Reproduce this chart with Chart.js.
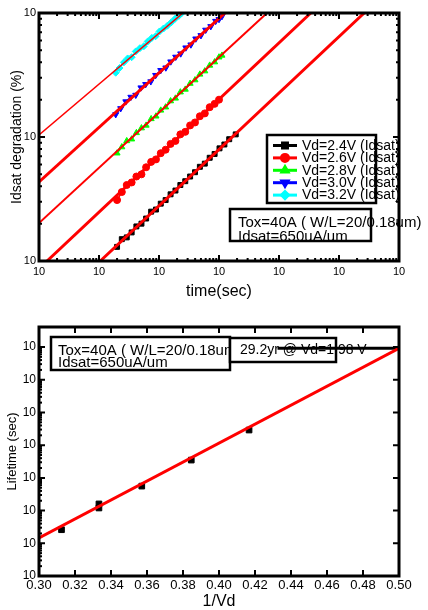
<!DOCTYPE html>
<html>
<head>
<meta charset="utf-8">
<script src="https://cdn.jsdelivr.net/npm/chart.js@4.4.0/dist/chart.umd.min.js"></script>
<style>
  html, body { margin: 0; padding: 0; background: #fff; }
  #wrap { position: relative; width: 428px; height: 610px; }
  .pane { position: absolute; left: 0; width: 428px; }
</style>
</head>
<body>
<div id="wrap">
  <div class="pane" style="top:0;height:300px"><canvas id="degChart"></canvas></div>
  <div class="pane" style="top:300px;height:310px"><canvas id="lifeChart"></canvas></div>
</div>
<script>
// ---- top chart data: Idsat degradation (%) vs stress time (sec) ----
const seriesLabels = ['Vd=2.4V (Idsat)', 'Vd=2.6V (Idsat)', 'Vd=2.8V (Idsat)', 'Vd=3.0V (Idsat)', 'Vd=3.2V (Idsat)'];

const time24 = [20, 24, 29, 35, 42, 51, 61, 74, 89, 107, 129, 156, 188, 227, 274, 330, 398, 480, 580, 700, 845, 1020, 1230, 1480, 1900];
const deg24 = [0.13, 0.15, 0.155, 0.17, 0.19, 0.20, 0.22, 0.25, 0.26, 0.29, 0.31, 0.345, 0.37, 0.41, 0.44, 0.48, 0.52, 0.575, 0.61, 0.68, 0.73, 0.81, 0.87, 0.96, 1.05];
const time26 = [20, 24, 29, 35, 42, 51, 61, 74, 89, 107, 129, 156, 188, 227, 274, 330, 398, 480, 580, 700, 845, 1000];
const deg26 = [0.31, 0.36, 0.41, 0.43, 0.48, 0.50, 0.57, 0.63, 0.66, 0.74, 0.79, 0.88, 0.93, 1.05, 1.10, 1.24, 1.31, 1.47, 1.55, 1.74, 1.85, 2.0];
const time28 = [20, 24, 29, 35, 42, 51, 61, 74, 89, 107, 129, 156, 188, 227, 274, 330, 398, 480, 580, 700, 845, 1000, 1120];
const deg28 = [0.74, 0.83, 0.93, 0.96, 1.08, 1.18, 1.24, 1.40, 1.47, 1.64, 1.74, 1.95, 2.05, 2.30, 2.42, 2.70, 2.88, 3.20, 3.40, 3.78, 4.02, 4.40, 4.55];
const time30 = [19, 23, 28, 34, 41, 50, 60, 73, 88, 107, 130, 157, 190, 230, 280, 340, 410, 500, 600, 730, 880, 1000, 1120];
const deg30 = [1.52, 1.70, 1.93, 2.10, 2.18, 2.50, 2.66, 2.80, 3.15, 3.45, 3.62, 4.05, 4.42, 4.70, 5.25, 5.55, 6.20, 6.60, 7.30, 7.80, 8.60, 8.90, 9.40];
const time32 = [19, 22, 26, 30, 35, 41, 48, 56, 65, 76, 88, 102, 119, 138, 160, 186, 215, 235];
const deg32 = [3.3, 3.6, 4.0, 4.3, 4.4, 4.9, 5.2, 5.4, 5.9, 6.3, 6.5, 7.1, 7.5, 7.9, 8.4, 9.0, 9.5, 9.9];

// fitted power-law lines, where they enter and leave the frame
const fitTime24 = [10.5, 263000], fitDeg24 = [0.1, 10];
const fitTime26 = [1.36, 33900], fitDeg26 = [0.1, 10];
const fitTime28 = [1, 6310], fitDeg28 = [0.202, 10];
const fitTime30 = [1, 1259], fitDeg30 = [0.434, 10];
const fitTime32 = [1, 251], fitDeg32 = [1.04, 10];

const timeTicks = [1, 10, 100, 1e3, 1e4, 1e5, 1e6];
const degTicks = [0.1, 1, 10];

// ---- bottom chart data: lifetime (sec) vs 1/Vd ----
const invVd = [0.3125, 0.3333, 0.3333, 0.3571, 0.3846, 0.4167];
const lifetime = [2.6e3, 1.2e4, 1.6e4, 5.6e4, 3.5e5, 2.9e6];
const fitInvVd = [0.30, 0.50], fitLifetime = [1.45e3, 9.2e8];
const levelInvVd = [0.4325, 0.50], levelLifetime = [9.21e8, 9.21e8];

const invVdTicks = [0.30, 0.32, 0.34, 0.36, 0.38, 0.40, 0.42, 0.44, 0.46, 0.48, 0.50];
const lifeTicks = [1e2, 1e3, 1e4, 1e5, 1e6, 1e7, 1e8, 1e9];

// styles
const seriesColors = ['#000000', '#ff0000', '#00ff00', '#0000ff', '#00ffff'];
const seriesMarkers = ['rect', 'circle', 'triangle', 'triangle', 'rectRot'];
const markerRotation = [0, 0, 0, 180, 0];
const fitWidths = [3, 3, 2, 3, 1.5];

const FONT = '"Liberation Sans", Arial, sans-serif';
Chart.defaults.font.family = FONT;
Chart.defaults.color = '#000';

const pts = (xs, ys) => xs.map((x, i) => ({ x, y: ys[i] }));

function logMinors(majors) {
  const out = [];
  for (let i = 0; i < majors.length - 1; i++)
    for (let k = 2; k <= 9; k++) out.push(majors[i] * k);
  return out;
}

// thick frame + inward tick marks
const framePlugin = {
  id: 'frame',
  afterDraw(chart, args, o) {
    const { ctx, chartArea: a, scales } = chart;
    ctx.save();
    ctx.strokeStyle = '#000';
    ctx.lineWidth = 2;
    const sx = scales.x, sy = scales.y;
    const xMark = (v, len) => {
      const p = sx.getPixelForValue(v);
      ctx.beginPath();
      ctx.moveTo(p, a.bottom); ctx.lineTo(p, a.bottom - len);
      ctx.moveTo(p, a.top); ctx.lineTo(p, a.top + len);
      ctx.stroke();
    };
    const yMark = (v, len, right) => {
      const p = sy.getPixelForValue(v);
      ctx.beginPath();
      ctx.moveTo(a.left, p); ctx.lineTo(a.left + len, p);
      if (right) { ctx.moveTo(a.right, p); ctx.lineTo(a.right - len, p); }
      ctx.stroke();
    };
    o.xMajor.forEach(v => xMark(v, 6));
    (o.xMinor || []).forEach(v => xMark(v, 3));
    o.yMajor.forEach(v => yMark(v, 6, true));
    (o.yMinor || []).forEach(v => yMark(v, 3, o.yMinorRight));
    ctx.lineWidth = 3;
    ctx.strokeRect(a.left, a.top, a.right - a.left, a.bottom - a.top);
    ctx.restore();
  }
};

function drawMarker(ctx, style, rot, r, x, y, color) {
  ctx.fillStyle = color; ctx.strokeStyle = color;
  if (Chart.helpers && Chart.helpers.drawPoint) {
    Chart.helpers.drawPoint(ctx, { pointStyle: style, rotation: rot, radius: r, borderWidth: 1 }, x, y);
  } else {
    ctx.fillRect(x - r, y - r, 2 * r, 2 * r);
  }
}

function textBox(ctx, x0, y0, x1, y1, lines, tx, ty, gap, size) {
  ctx.fillStyle = '#fff';
  ctx.fillRect(x0, y0, x1 - x0, y1 - y0);
  ctx.fillStyle = '#000';
  ctx.font = size + 'px ' + FONT;
  ctx.textBaseline = 'middle';
  ctx.textAlign = 'left';
  lines.forEach((t, i) => ctx.fillText(t, tx, ty + i * gap));
  ctx.lineWidth = 2.5;
  ctx.strokeStyle = '#000';
  ctx.strokeRect(x0, y0, x1 - x0, y1 - y0);
}

const degNotes = {
  id: 'degNotes',
  afterDatasetsDraw(chart) {
    const ctx = chart.ctx;
    ctx.save();
    // legend
    ctx.fillStyle = '#fff';
    ctx.fillRect(267, 135, 109, 68);
    ctx.lineWidth = 2.5;
    ctx.strokeStyle = '#000';
    ctx.strokeRect(267, 135, 109, 68);
    seriesLabels.forEach((lab, i) => {
      const y = 145.5 + i * 12.4;
      ctx.strokeStyle = seriesColors[i];
      ctx.lineWidth = 3;
      ctx.beginPath(); ctx.moveTo(273, y); ctx.lineTo(297, y); ctx.stroke();
      drawMarker(ctx, seriesMarkers[i], markerRotation[i], 3.5, 285, y, seriesColors[i]);
      ctx.fillStyle = '#000';
      ctx.font = '14px ' + FONT;
      ctx.textBaseline = 'middle';
      ctx.fillText(lab, 302, y + 0.5);
    });
    textBox(ctx, 230, 209, 371, 241, ['Tox=40A ( W/L=20/0.18um)', 'Idsat=650uA/um'], 238, 223, 13.5, 15);
    ctx.restore();
  }
};

const lifeNotes = {
  id: 'lifeNotes',
  beforeDatasetsDraw(chart) {
    const ctx = chart.ctx;
    ctx.save();
    textBox(ctx, 51, 37, 230, 70, ['Tox=40A ( W/L=20/0.18um)', 'Idsat=650uA/um'], 58, 51, 11.5, 15);
    ctx.fillStyle = '#fff';
    ctx.fillRect(230, 38, 106, 24);
    ctx.fillStyle = '#000';
    ctx.font = '14px ' + FONT;
    ctx.textBaseline = 'middle';
    ctx.fillText('29.2yr @ Vd=1.98 V', 240, 50);
    ctx.lineWidth = 2.5;
    ctx.strokeRect(230, 38, 106, 24);
    ctx.restore();
  }
};

const degSets = [
  [time24, deg24, fitTime24, fitDeg24],
  [time26, deg26, fitTime26, fitDeg26],
  [time28, deg28, fitTime28, fitDeg28],
  [time30, deg30, fitTime30, fitDeg30],
  [time32, deg32, fitTime32, fitDeg32]
];
const degData = [];
degSets.forEach(([t, d, ft, fd], i) => {
  degData.push({
    label: seriesLabels[i], data: pts(t, d), order: 2,
    borderColor: seriesColors[i], backgroundColor: seriesColors[i], borderWidth: 1.5,
    pointStyle: seriesMarkers[i], rotation: markerRotation[i], pointRadius: 3.5, pointBorderWidth: 1
  });
  degData.push({
    label: 'fit ' + seriesLabels[i], data: pts(ft, fd), order: 1,
    borderColor: '#ff0000', borderWidth: fitWidths[i], pointRadius: 0
  });
});

const axisCommon = (title, size, pad, lh, tickSize, tickPad, ticks, fmt) => ({
  grid: { drawOnChartArea: false, drawTicks: false },
  border: { display: false },
  title: { display: true, text: title, font: { size, lineHeight: lh }, padding: pad },
  ticks: { font: { size: tickSize }, padding: tickPad, autoSkip: false, maxRotation: 0, callback: fmt },
  afterBuildTicks: s => { s.ticks = ticks.map(v => ({ value: v })); }
});

new Chart(document.getElementById('degChart'), {
  type: 'line',
  data: { datasets: degData },
  options: {
    animation: false, responsive: true, maintainAspectRatio: false,
    layout: { padding: { top: 13, right: 29, left: 0, bottom: 0 } },
    plugins: {
      legend: { display: false }, tooltip: { enabled: false },
      frame: { xMajor: timeTicks, xMinor: logMinors(timeTicks), yMajor: degTicks, yMinor: logMinors(degTicks), yMinorRight: true }
    },
    scales: {
      x: Object.assign(axisCommon('time(sec)', 16, { top: 0, bottom: 0 }, 1, 11, 4, timeTicks, () => '10'),
        { type: 'logarithmic', min: 1, max: 1e6, afterFit: s => { s.height = 39; } }),
      y: Object.assign(axisCommon('Idsat degradation (%)', 14, { top: 9, bottom: 0 }, 1.2, 11, 3, degTicks, () => '10'),
        { type: 'logarithmic', min: 0.1, max: 10, afterFit: s => { s.width = 39; } })
    }
  },
  plugins: [degNotes, framePlugin]
});

new Chart(document.getElementById('lifeChart'), {
  type: 'line',
  data: {
    datasets: [
      { label: 'lifetime', data: pts(invVd, lifetime), showLine: false, order: 2,
        pointStyle: 'rect', pointRadius: 4, backgroundColor: '#000', borderColor: '#000' },
      { label: 'fit', data: pts(fitInvVd, fitLifetime), order: 1,
        borderColor: '#ff0000', borderWidth: 3, pointRadius: 0 },
      { label: '29.2yr', data: pts(levelInvVd, levelLifetime), order: 1,
        borderColor: '#000', borderWidth: 3, pointRadius: 0 }
    ]
  },
  options: {
    animation: false, responsive: true, maintainAspectRatio: false,
    layout: { padding: { top: 27, right: 29, left: 0, bottom: 0 } },
    plugins: {
      legend: { display: false }, tooltip: { enabled: false },
      frame: { xMajor: invVdTicks, yMajor: lifeTicks, yMinor: logMinors(lifeTicks), yMinorRight: false }
    },
    scales: {
      x: Object.assign(axisCommon('1/Vd', 16, { top: 0, bottom: 0 }, 1, 13, 2, invVdTicks, v => v.toFixed(2)),
        { type: 'linear', min: 0.30, max: 0.50, afterFit: s => { s.height = 34; } }),
      y: Object.assign(axisCommon('Lifetime (sec)', 13, { top: 5, bottom: 0 }, 1.2, 12, 3, lifeTicks, () => '10'),
        { type: 'logarithmic', min: 100, max: 4.1e9, afterFit: s => { s.width = 39; } })
    }
  },
  plugins: [lifeNotes, framePlugin]
});
</script>
</body>
</html>
